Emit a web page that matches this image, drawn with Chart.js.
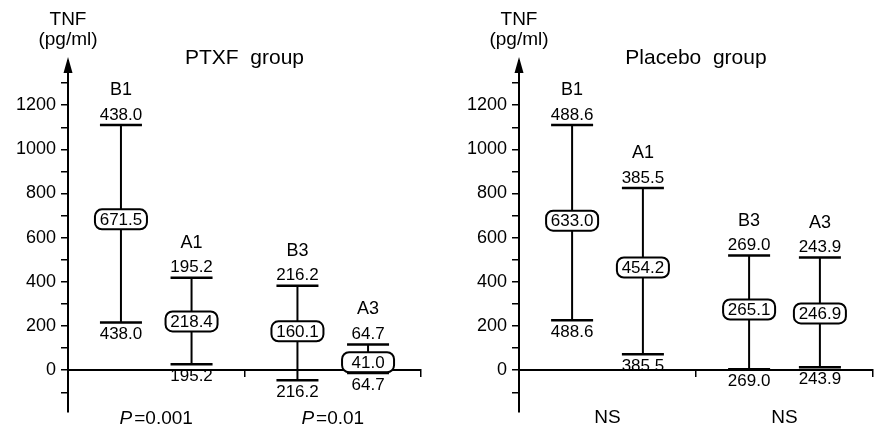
<!DOCTYPE html>
<html>
<head>
<meta charset="utf-8">
<script src="https://cdn.jsdelivr.net/npm/chart.js@4.4.1/dist/chart.umd.min.js"></script>
<style>
  body { margin: 0; background: #fff; }
  #wrap { position: relative; width: 880px; height: 428px; }
  canvas { position: absolute; top: 0; }
</style>
</head>
<body>
<div id="wrap">
  <canvas id="ptxf" width="440" height="428" style="left:0"></canvas>
  <canvas id="placebo" width="440" height="428" style="left:440px"></canvas>
</div>
<script>
var groups = ["B1", "A1", "B3", "A3"],
    slots = [3, 7, 13, 17],          // where each group sits on the 0-20 x axis
    dividers = [10, 20],
    yTicks = [-100, 0, 100, 200, 300, 400, 500, 600, 700, 800, 900, 1000, 1100, 1200, 1300];

// PTXF group (mean, SD, and the bar ends / box centre as drawn in the figure)
var ptxfMean = [671.5, 218.4, 160.1, 41.0],
    ptxfSD = [438.0, 195.2, 216.2, 64.7],
    ptxfTop = [1110, 419, 383, 117],
    ptxfBottom = [216, 27, -45, -12],
    ptxfMid = [683, 221, 176, 36],
    ptxfP = ["0.001", "0.01"];

// Placebo group
var placMean = [633.0, 454.2, 265.1, 246.9],
    placSD = [488.6, 385.5, 269.0, 243.9],
    placTop = [1110, 825, 519, 510],
    placBottom = [226, 72, 4, 13],
    placMid = [677, 465, 275, 257],
    placP = ["NS", "NS"];

var FONT = "'Liberation Sans', Arial, Helvetica, sans-serif";

function drawPanel(id, title, mean, sd, top, bottom, mid, pvals, italicP, pad) {

    var whiskers = [], caps = [];
    slots.forEach(function (s, i) {
        whiskers.push({ x: s, y: top[i] }, { x: s, y: bottom[i] }, { x: s, y: null });
        caps.push({ x: s, y: top[i] }, { x: s, y: bottom[i] });
    });

    var overlay = {
        id: "overlay",
        afterDatasetDraw: function (chart, args) {
            if (args.index !== 0) return;
            // mean boxes, over the whisker line but under the caps
            var ctx = chart.ctx, x = chart.scales.x, y = chart.scales.y;
            ctx.save();
            slots.forEach(function (s, i) {
                var px = x.getPixelForValue(s), py = y.getPixelForValue(mid[i]);
                ctx.beginPath();
                ctx.roundRect(px - 26, py - 10, 52, 20, 7);
                ctx.fillStyle = "#fff";
                ctx.fill();
                ctx.lineWidth = 2;
                ctx.strokeStyle = "#000";
                ctx.stroke();
                ctx.fillStyle = "#000";
                ctx.font = "17px " + FONT;
                ctx.textAlign = "center";
                ctx.textBaseline = "middle";
                ctx.fillText(mean[i].toFixed(1), px, py + 1);
            });
            ctx.restore();
        },
        afterDraw: function (chart) {
            var ctx = chart.ctx, x = chart.scales.x, y = chart.scales.y,
                area = chart.chartArea;
            ctx.save();
            ctx.fillStyle = "#000";
            ctx.textAlign = "center";

            // group names and SD values
            slots.forEach(function (s, i) {
                var px = x.getPixelForValue(s),
                    pt = y.getPixelForValue(top[i]),
                    pb = y.getPixelForValue(bottom[i]);
                ctx.textBaseline = "middle";
                ctx.font = "18px " + FONT;
                ctx.fillText(groups[i], px, pt - 35);
                ctx.font = "17px " + FONT;
                ctx.fillText(sd[i].toFixed(1), px, pt - 10);
                ctx.fillText(sd[i].toFixed(1), px, pb + 12);
            });

            // title
            ctx.textBaseline = "alphabetic";
            ctx.font = "21px " + FONT;
            ctx.fillText(title, x.getPixelForValue(dividers[0]), 64);

            // axis label
            ctx.font = "19px " + FONT;
            ctx.fillText("TNF", area.left, 25);
            ctx.fillText("(pg/ml)", area.left, 45);

            // arrow head
            ctx.beginPath();
            ctx.moveTo(area.left, 57);
            ctx.lineTo(area.left - 4.5, 73);
            ctx.lineTo(area.left + 4.5, 73);
            ctx.closePath();
            ctx.fill();

            // p values under each pair
            [0, 1].forEach(function (k) {
                var cx = x.getPixelForValue((slots[2 * k] + slots[2 * k + 1]) / 2);
                if (italicP) {
                    var rest = "=" + pvals[k];
                    ctx.font = "italic 19px " + FONT;
                    var wP = ctx.measureText("P").width;
                    ctx.font = "19px " + FONT;
                    var wR = ctx.measureText(rest).width;
                    var start = cx - (wP + 2 + wR) / 2;
                    ctx.textAlign = "left";
                    ctx.font = "italic 19px " + FONT;
                    ctx.fillText("P", start, 424);
                    ctx.font = "19px " + FONT;
                    ctx.fillText(rest, start + wP + 2, 424);
                    ctx.textAlign = "center";
                } else {
                    ctx.font = "19px " + FONT;
                    ctx.fillText(pvals[k], cx, 423);
                }
            });
            ctx.restore();
        }
    };

    new Chart(document.getElementById(id), {
        type: "scatter",
        data: {
            datasets: [{
                type: "line",
                data: whiskers,
                borderColor: "#000",
                borderWidth: 2,
                pointRadius: 0,
                spanGaps: false,
                order: 2
            }, {
                data: caps,
                pointStyle: "line",
                pointRadius: 21,
                borderColor: "#000",
                borderWidth: 2.5,
                order: 1
            }]
        },
        options: {
            responsive: false,
            animation: false,
            events: [],
            layout: { padding: pad, autoPadding: false },   // cap points are wide, don't let them pad the chart
            plugins: { legend: { display: false }, tooltip: { enabled: false } },
            scales: {
                x: {
                    type: "linear",
                    min: 0,
                    max: 20,
                    position: { y: 0 },
                    afterBuildTicks: function (s) {
                        s.ticks = dividers.map(function (v) { return { value: v }; });
                    },
                    afterFit: function (s) { s.height = 0; },
                    ticks: { callback: function () { return ""; } },
                    grid: { drawOnChartArea: false, drawTicks: true, tickLength: 6, color: "#000", lineWidth: 1.5 },
                    border: { display: true, color: "#000", width: 2 }
                },
                y: {
                    min: -190,
                    max: 1400,
                    afterBuildTicks: function (s) {
                        s.ticks = yTicks.map(function (v) { return { value: v }; });
                    },
                    afterFit: function (s) { s.width = 68; },
                    ticks: {
                        color: "#000",
                        padding: 5,
                        autoSkip: false,
                        font: { family: FONT, size: 18 },
                        callback: function (v) { return (v >= 0 && v % 200 === 0) ? String(v) : ""; }
                    },
                    grid: { drawOnChartArea: false, drawTicks: true, tickLength: 7, color: "#000", lineWidth: 1.5 },
                    border: { display: true, color: "#000", width: 2 }
                }
            }
        },
        plugins: [overlay]
    });
}

window.onload = function () {
    drawPanel("ptxf", "PTXF  group", ptxfMean, ptxfSD, ptxfTop, ptxfBottom, ptxfMid, ptxfP, true,
        { left: 0, top: 61, right: 19, bottom: 15 });
    drawPanel("placebo", "Placebo  group", placMean, placSD, placTop, placBottom, placMid, placP, false,
        { left: 11, top: 61, right: 7, bottom: 15 });
};
</script>
</body>
</html>
